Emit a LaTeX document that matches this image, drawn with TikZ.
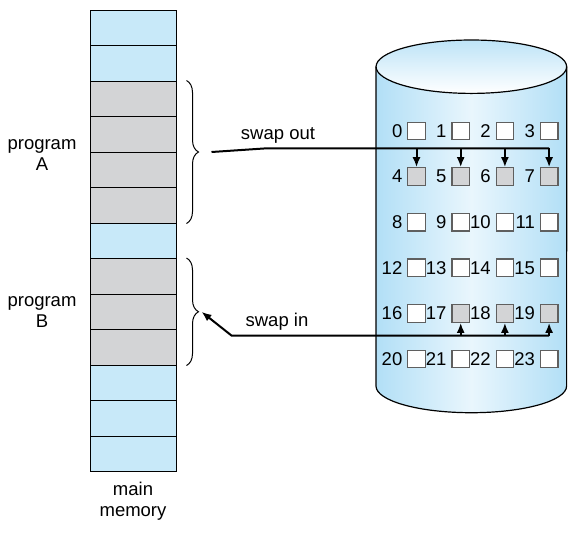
\documentclass[tikz,border=0pt]{standalone}
\usepackage{fontspec}
\setmainfont{Liberation Sans}
\usetikzlibrary{positioning,decorations.pathreplacing,arrows.meta}
\definecolor{bleumem}{RGB}{200,233,249}
\definecolor{grismem}{RGB}{211,212,214}
\definecolor{bleudisque}{RGB}{178,223,246}
\definecolor{clairdisque}{RGB}{233,246,253}
\definecolor{bordbloc}{RGB}{95,95,95}
\tikzset{
  cellule/.style={draw, line width=0.5pt, minimum width=43pt, minimum height=17.75pt, inner sep=0pt},
  bloc/.style={draw=bordbloc, line width=0.6pt, fill=white, minimum size=8.8pt, inner sep=0pt},
  num/.style={inner sep=2.2pt, anchor=east},
  fleche/.style={line width=1pt, -{Latex[length=5pt,width=4pt]}},
  accolade/.style={decorate, decoration={brace, amplitude=6pt}, line width=0.5pt},
}
\begin{document}
\begin{tikzpicture}[x=0.5pt, y=-0.5pt, font=\fontsize{9.25pt}{10.5pt}\selectfont]
        \def\hc{35.5}    % hauteur d'une cellule
        \def\dx{44.2}    % pas horizontal des blocs
        \def\dy{45.6}    % pas vertical des blocs
        \def\rx{47.65pt} % rayons de l'ellipse du disque
        \def\ry{13.35pt}
        \useasboundingbox (0,0) rectangle (578,532);

        % Memoire principale : 13 cellules
        \foreach \i/\c in {0/bleumem,1/bleumem,2/grismem,3/grismem,4/grismem,5/grismem,6/bleumem,7/grismem,8/grismem,9/grismem,10/bleumem,11/bleumem,12/bleumem} {
            \node[cellule, fill=\c] (m\i) at (133, 10+\hc/2+\hc*\i) {};
        }
        \node[align=center] (mem) at (133,501) {main\\memory};
        \node[align=center] (progA) at (42,155) {program\\A};
        \node[align=center] (progB) at (42,312) {program\\B};

        % Accolades des programmes
        \draw[accolade] ([xshift=5pt]m2.north east) -- node[coordinate, right=6pt] (pointeA) {} ([xshift=5pt]m5.south east);
        \draw[accolade] ([xshift=5pt]m7.north east) -- node[coordinate, right=6pt] (pointeB) {} ([xshift=5pt]m9.south east);

        % Disque (cylindre)
        \shade[left color=bleudisque, right color=bleudisque, middle color=clairdisque]
            (376,66.7) -- (376,386) arc[start angle=180, end angle=360, x radius=\rx, y radius=\ry] -- (566.7,66.7) -- cycle;
        \shade[top color=bleudisque!85, bottom color=white] (471.35,66.7) ellipse[x radius=\rx, y radius=\ry];
        \draw[line width=0.6pt] (376,66.7) -- (376,386) arc[start angle=180, end angle=360, x radius=\rx, y radius=\ry] -- (566.7,66.7);
        \draw[line width=0.6pt] (471.35,66.7) ellipse[x radius=\rx, y radius=\ry];

        % Blocs du disque 0..23
        \foreach \n in {0,...,23} {
            \pgfmathtruncatemacro\r{\n/4}
            \pgfmathtruncatemacro\c{mod(\n,4)}
            \node[bloc] (b\n) at (416.5+\dx*\c, 131+\dy*\r) {};
            \node[num, left=0pt of b\n] (n\n) {\n};
        }
        % blocs occupes
        \foreach \n in {4,5,6,7,17,18,19} {
            \node[bloc, fill=grismem] (g\n) at (b\n) {};
        }

        % swap out
        \coordinate (coudeA) at (266.7,148.3);
        \draw[line width=1pt] ([xshift=6.5pt]pointeA) -- (coudeA) -- (coudeA -| b7.north);
        \foreach \n in {4,5,6,7} {
            \draw[fleche] (coudeA -| b\n.north) -- (b\n.north);
        }
        \node (swapout) at (278,135) {swap out};

        % swap in
        \coordinate (coudeB) at (231.7,335.7);
        \foreach \n in {17,18,19} {
            \draw[fleche] (coudeB -| b\n.south) -- (b\n.south);
        }
        \draw[fleche] (coudeB -| b19.south) -- (coudeB) -- ([xshift=1.5pt]pointeB);
        \node (swapin) at (277,322) {swap in};
\end{tikzpicture}
\end{document}
